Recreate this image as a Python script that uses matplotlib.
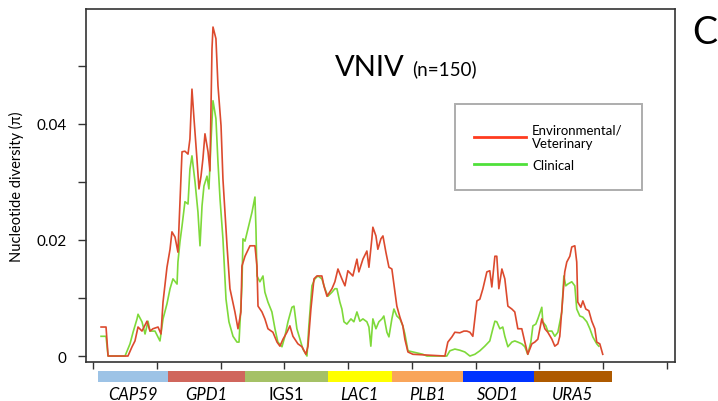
import matplotlib
matplotlib.use("Agg")
import matplotlib.pyplot as plt

plt.rcParams['font.family'] = ['Lato', 'DejaVu Sans']

# sliding-window nucleotide diversity
env_pos = [63, 102, 118, 274, 306, 329, 353, 384, 423, 447, 470, 510, 533, 549, 580, 604,
           619, 643, 666, 682, 698, 721, 745, 760, 776, 792, 815, 831, 847, 862, 878, 902,
           917, 933, 941, 964, 980, 1004, 1019, 1051, 1074, 1113, 1137, 1160, 1168, 1192,
           1231, 1270, 1286, 1294, 1325, 1348, 1372, 1411, 1443, 1466, 1490, 1521, 1544,
           1568, 1607, 1639, 1670, 1686, 1709, 1733, 1756, 1795, 1811, 1835, 1874, 1897,
           1921, 1952, 1976, 1999, 2038, 2070, 2085, 2117, 2148, 2164, 2187, 2195, 2219,
           2234, 2258, 2274, 2297, 2321, 2344, 2368, 2383, 2407, 2430, 2446, 2470, 2509,
           2760, 2783, 2815, 2838, 2877, 2909, 2932, 2956, 2979, 3011, 3034, 3058, 3089,
           3112, 3128, 3152, 3167, 3183, 3207, 3230, 3254, 3285, 3308, 3332, 3363, 3387,
           3410, 3442, 3465, 3489, 3520, 3544, 3567, 3599, 3622, 3646, 3661, 3685, 3700,
           3716, 3740, 3755, 3779, 3794, 3802, 3826, 3842, 3865, 3889, 3912, 3936, 3951,
           3975, 3998]
env_pi = [0.0050, 0.0050, 0.0, 0.0, 0.0016, 0.0026, 0.0050, 0.0043, 0.0060, 0.0043, 0.0047,
          0.0050, 0.0038, 0.0093, 0.0153, 0.0184, 0.0214, 0.0205, 0.0179, 0.0266, 0.0352,
          0.0353, 0.0348, 0.0374, 0.0460, 0.0409, 0.0340, 0.0288, 0.0310, 0.0340, 0.0383,
          0.0352, 0.0319, 0.0529, 0.0567, 0.0547, 0.0466, 0.0397, 0.0305, 0.0190, 0.0116,
          0.0076, 0.0047, 0.0076, 0.0155, 0.0172, 0.0190, 0.0190, 0.0155, 0.0086, 0.0076,
          0.0064, 0.0047, 0.0041, 0.0024, 0.0017, 0.0029, 0.0041, 0.0052, 0.0034, 0.0021,
          0.0016, 0.0003, 0.0017, 0.0081, 0.0133, 0.0138, 0.0138, 0.0121, 0.0103, 0.0116,
          0.0128, 0.0150, 0.0133, 0.0121, 0.0147, 0.0138, 0.0167, 0.0145, 0.0167, 0.0181,
          0.0153, 0.0202, 0.0222, 0.0207, 0.0184, 0.0202, 0.0207, 0.0179, 0.0153, 0.0150,
          0.0110, 0.0086, 0.0067, 0.0052, 0.0029, 0.0007, 0.0003, 0.0, 0.0024, 0.0033,
          0.0041, 0.0040, 0.0043, 0.0043, 0.0041, 0.0034, 0.0095, 0.0098, 0.0116, 0.0145,
          0.0147, 0.0119, 0.0172, 0.0172, 0.0116, 0.0150, 0.0133, 0.0086, 0.0081, 0.0076,
          0.0047, 0.0047, 0.0024, 0.0003, 0.0021, 0.0024, 0.0029, 0.0064, 0.0047, 0.0041,
          0.0029, 0.0017, 0.0021, 0.0034, 0.0103, 0.0145, 0.0162, 0.0172, 0.0188, 0.0190,
          0.0162, 0.0093, 0.0084, 0.0095, 0.0081, 0.0078, 0.0060, 0.0047, 0.0024, 0.0021,
          0.0003]

clin_pos = [63, 102, 118, 251, 290, 314, 345, 353, 384, 408, 431, 447, 486, 525, 549, 580,
            604, 627, 659, 666, 682, 698, 721, 745, 760, 776, 800, 823, 839, 855, 870, 894,
            909, 925, 941, 964, 980, 996, 1019, 1043, 1066, 1098, 1129, 1145, 1168, 1176,
            1192, 1215, 1247, 1270, 1278, 1286, 1309, 1333, 1348, 1372, 1403, 1427, 1450,
            1482, 1505, 1529, 1560, 1576, 1599, 1623, 1646, 1678, 1693, 1717, 1740, 1764,
            1795, 1819, 1842, 1874, 1897, 1913, 1936, 1952, 1968, 1991, 2023, 2046, 2070,
            2093, 2117, 2148, 2164, 2179, 2195, 2219, 2242, 2266, 2281, 2305, 2321, 2344,
            2360, 2383, 2407, 2430, 2446, 2470, 2509, 2587, 2619, 2775, 2799, 2838, 2877,
            2916, 2956, 2995, 3034, 3073, 3112, 3136, 3152, 3167, 3191, 3214, 3230, 3254,
            3285, 3308, 3332, 3363, 3387, 3410, 3434, 3450, 3473, 3489, 3520, 3528, 3552,
            3567, 3599, 3622, 3646, 3677, 3693, 3708, 3724, 3755, 3779, 3794, 3818, 3842,
            3873, 3897, 3920, 3951, 3967]
clin_pi = [0.0034, 0.0034, 0.0, 0.0, 0.0021, 0.0041, 0.0064, 0.0072, 0.0059, 0.0038, 0.0060,
           0.0043, 0.0043, 0.0026, 0.0064, 0.0090, 0.0116, 0.0133, 0.0124, 0.0162, 0.0197,
           0.0224, 0.0266, 0.0262, 0.0322, 0.0345, 0.0300, 0.0248, 0.0190, 0.0259, 0.0293,
           0.0310, 0.0288, 0.0369, 0.0440, 0.0409, 0.0334, 0.0271, 0.0202, 0.0098, 0.0059,
           0.0034, 0.0024, 0.0024, 0.0121, 0.0202, 0.0198, 0.0219, 0.0248, 0.0274, 0.0219,
           0.0138, 0.0128, 0.0138, 0.0110, 0.0093, 0.0076, 0.0047, 0.0024, 0.0016, 0.0034,
           0.0059, 0.0084, 0.0086, 0.0047, 0.0029, 0.0012, 0.0, 0.0052, 0.0121, 0.0133,
           0.0138, 0.0133, 0.0116, 0.0103, 0.0110, 0.0116, 0.0116, 0.0093, 0.0081, 0.0059,
           0.0055, 0.0064, 0.0059, 0.0076, 0.0060, 0.0064, 0.0059, 0.0050, 0.0017, 0.0064,
           0.0047, 0.0059, 0.0064, 0.0069, 0.0041, 0.0033, 0.0064, 0.0081, 0.0069, 0.0064,
           0.0052, 0.0038, 0.0009, 0.0007, 0.0003, 0.0, 0.0, 0.0009, 0.0012, 0.0010, 0.0007,
           0.0, 0.0003, 0.0009, 0.0017, 0.0026, 0.0047, 0.0060, 0.0059, 0.0047, 0.0050,
           0.0034, 0.0016, 0.0024, 0.0026, 0.0024, 0.0021, 0.0016, 0.0003, 0.0024, 0.0052,
           0.0055, 0.0064, 0.0084, 0.0059, 0.0052, 0.0043, 0.0043, 0.0034, 0.0041, 0.0076,
           0.0138, 0.0121, 0.0124, 0.0128, 0.0121, 0.0081, 0.0069, 0.0067, 0.0059, 0.0047,
           0.0033, 0.0021, 0.0017]

genes = ['CAP59', 'GPD1', 'IGS1', 'LAC1', 'PLB1', 'SOD1', 'URA5']
gene_start = [39, 588, 1192, 1842, 2344, 2901, 3457]
gene_end = [588, 1192, 1842, 2344, 2901, 3457, 4069]
gene_colors = ['#9dc3e6', '#d0665c', '#a5c166', '#ffff00', '#f9a55a', '#0033ff', '#ae5a00']

xlim = (-55, 4563)

fig = plt.figure(figsize=(7.18, 4.02), dpi=100)
ax = fig.add_axes([0.1198, 0.097, 0.820, 0.878])

ax.plot(clin_pos, clin_pi, color='#7ed93a', lw=1.2)
ax.plot(env_pos, env_pi, color='#dc4a2e', lw=1.2)

ax.set_xlim(*xlim)
ax.set_ylim(-0.00103, 0.0598)
ax.set_xticks(range(0, 4501, 500))
ax.set_xticklabels([])
ax.set_yticks([0, 0.01, 0.02, 0.03, 0.04, 0.05])
ax.set_yticklabels(['0', '', '0.02', '', '0.04', ''], fontsize=11)
ax.tick_params(axis='y', length=6, width=1, pad=8, color='#333333')
ax.tick_params(axis='x', length=5, width=1, color='#333333')
for s in ax.spines.values():
    s.set_color('#333333')
    s.set_linewidth(1.2)
ax.set_ylabel('Nucleotide diversity (\u03c0)', fontsize=10.5, labelpad=9)

# legend (handles from the plotted lines)
h1, = ax.plot([], [], color='#ff3b1f', lw=2)
h2, = ax.plot([], [], color='#4fe03a', lw=2)
leg = ax.legend([h1, h2], ['Environmental/\nVeterinary', 'Clinical'],
                loc='upper left', bbox_to_anchor=(455 / 718, 1 - 105 / 402),
                bbox_transform=fig.transFigure, fontsize=9.5, frameon=True,
                fancybox=False, edgecolor='#999999', handlelength=3.9,
                handletextpad=0.5, borderpad=1.45, labelspacing=0.75,
                borderaxespad=0)
leg.get_frame().set_linewidth(1.4)

fig.text(335 / 718, 1 - 76 / 402, 'VNIV', fontsize=21, va='baseline', ha='left')
fig.text(412 / 718, 1 - 75 / 402, '(n=150)', fontsize=13.5, va='baseline', ha='left')
fig.text(692 / 718, 1 - 44 / 402, 'C', fontsize=27, va='baseline', ha='left')

# gene bar below the plot
axb = fig.add_axes([0.1198, 0.047, 0.820, 0.027])
axb.barh(0, [e - s for s, e in zip(gene_start, gene_end)], left=gene_start,
         height=1, color=gene_colors)
axb.set_xlim(*xlim)
axb.set_ylim(-0.5, 0.5)
axb.axis('off')
for name, s, e in zip(genes, gene_start, gene_end):
    axb.annotate(name, ((s + e) / 2, 0), xycoords=('data', 'axes fraction'),
                 xytext=(0, -2.5), textcoords='offset points', ha='center', va='top',
                 fontsize=12, style='normal' if name == 'IGS1' else 'italic',
                 annotation_clip=False)

fig.savefig('out.png', dpi=100)
